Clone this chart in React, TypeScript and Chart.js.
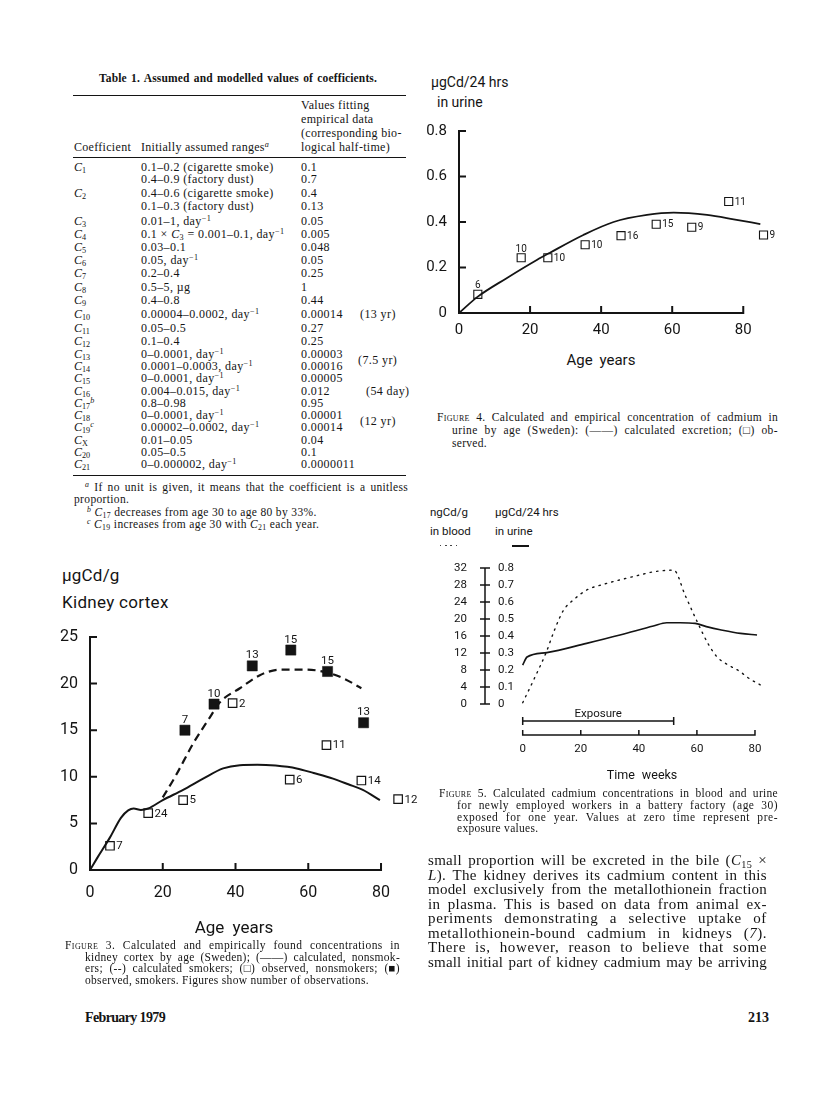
import React, { useEffect, useLayoutEffect, useRef } from 'react';
import { Chart, registerables } from 'chart.js';

Chart.register(...registerables);

const INK = '#141414';
const SANS = 'Roboto, "DejaVu Sans", sans-serif';
const SERIF = '"Liberation Serif", "Times New Roman", serif';

// ---------------- Figure 3: kidney cortex ----------------
const ageTicks = [0, 20, 40, 60, 80];
const ageTickLabels = ['0', '20', '40', '60', '80'];
const kidneyTicks = [0, 5, 10, 15, 20, 25];
const kidneyTickLabels = ['0', '5', '10', '15', '20', '25'];
const calcNonsmokerAge = [0, 2, 5.5, 8.5, 10.5, 12, 14, 16, 20, 25.6, 31.1, 36.6, 41.2, 46, 51, 56.8, 61.5, 66.8, 71, 75, 79.7];
const calcNonsmokerCd = [0, 1.3, 3.5, 5.6, 6.4, 6.6, 6.45, 6.6, 7.5, 8.6, 9.8, 10.9, 11.25, 11.3, 11.2, 10.9, 10.4, 9.8, 9.2, 8.6, 7.5];
const calcSmokerAge = [20, 23.4, 28.4, 33, 35.7, 41.2, 46.7, 52.2, 59.5, 66, 70, 74.6];
const calcSmokerCd = [7.8, 10, 13.6, 16.4, 18, 19.5, 20.9, 21.5, 21.5, 21.1, 20.5, 19.5];
const obsNonsmokerAge = [5.5, 16, 25.6, 39.2, 54.9, 65, 74.6, 84.7];
const obsNonsmokerCd = [2.6, 6.1, 7.5, 17.9, 9.7, 13.4, 9.6, 7.6];
const obsNonsmokerCount = [7, 24, 5, 2, 6, 11, 14, 12];
const obsNonsmokerSide = ['right', 'right', 'right', 'right', 'right', 'right', 'right', 'right'];
const obsSmokerAge = [26.1, 34.1, 44.6, 55.2, 65.3, 75.2];
const obsSmokerCd = [15.0, 17.8, 21.9, 23.6, 21.3, 15.8];
const obsSmokerCount = [7, 10, 13, 15, 15, 13];
const obsSmokerSide = ['above', 'above', 'above', 'above', 'above', 'above'];

// ---------------- Figure 4: urine by age ----------------
const urineTicks = [0, 0.2, 0.4, 0.6, 0.8];
const urineTickLabels = ['0', '0.2', '0.4', '0.6', '0.8'];
const calcUrineAge = [0, 5.3, 13.4, 21.9, 25.6, 35, 43.5, 52.9, 60.4, 69.8, 77.3, 84.8];
const calcUrineCd = [0, 0.072, 0.153, 0.233, 0.265, 0.343, 0.4, 0.431, 0.441, 0.431, 0.412, 0.391];
const obsUrineAge = [5.3, 17.5, 25, 35.5, 45.6, 55.5, 65.5, 75.9, 85.7];
const obsUrineCd = [0.082, 0.243, 0.243, 0.3, 0.34, 0.39, 0.377, 0.49, 0.343];
const obsUrineCount = [6, 10, 10, 10, 16, 15, 9, 11, 9];
const obsUrineSide = ['above', 'above', 'right', 'right', 'right', 'right', 'right', 'right', 'right'];

// ---------------- Figure 5: exposure in weeks ----------------
const weekTicks = [0, 20, 40, 60, 80];
const weekTickLabels = ['0', '20', '40', '60', '80'];
const bloodTicks = [0, 4, 8, 12, 16, 20, 24, 28, 32];
const bloodTickLabels = ['0', '4', '8', '12', '16', '20', '24', '28', '32'];
const urineRateTicks = [0, 0.1, 0.2, 0.3, 0.4, 0.5, 0.6, 0.7, 0.8];
const urineRateTickLabels = ['0', '0.1', '0.2', '0.3', '0.4', '0.5', '0.6', '0.7', '0.8'];
const bloodWeek = [0, 4, 8, 11, 14, 18, 22, 28, 33.5, 40, 45, 52, 56, 60, 64, 66.9, 70, 74.9, 78, 81.8];
const bloodNg = [0.3, 6, 12, 17.5, 22, 24.8, 26.8, 28.2, 29.2, 30.3, 31.1, 31.5, 25.5, 19.5, 14, 11.1, 9.5, 7.6, 6, 4.5];
const urineWeek = [0, 1.5, 8.3, 22, 33.5, 45, 49.6, 54.2, 59.4, 64, 68, 75, 80.7];
const urineUg = [0.229, 0.276, 0.302, 0.357, 0.406, 0.459, 0.478, 0.478, 0.474, 0.452, 0.437, 0.415, 0.406];
const exposureWeeks = [0, 52];

// ---------------- Table 1 ----------------
const tableCoefSub = ['1', '', '2', '', '3', '4', '5', '6', '7', '8', '9', '10', '11', '12', '13', '14', '15', '16', '17', '18', '19', 'X', '20', '21'];
const tableCoefNote = ['', '', '', '', '', '', '', '', '', '', '', '', '', '', '', '', '', '', 'b', '', 'c', '', '', ''];
const tableRanges = [
  '0.1–0.2 (cigarette smoke)', '0.4–0.9 (factory dust)', '0.4–0.6 (cigarette smoke)', '0.1–0.3 (factory dust)',
  '0.01–1, day^-1', '0.1 × C_3 = 0.001–0.1, day^-1', '0.03–0.1', '0.05, day^-1', '0.2–0.4', '0.5–5, µg', '0.4–0.8',
  '0.00004–0.0002, day^-1', '0.05–0.5', '0.1–0.4', '0–0.0001, day^-1', '0.0001–0.0003, day^-1', '0–0.0001, day^-1',
  '0.004–0.015, day^-1', '0.8–0.98', '0–0.0001, day^-1', '0.00002–0.0002, day^-1', '0.01–0.05', '0.05–0.5', '0–0.000002, day^-1',
];
const tableValues = ['0.1', '0.7', '0.4', '0.13', '0.05', '0.005', '0.048', '0.05', '0.25', '1', '0.44', '0.00014', '0.27', '0.25',
  '0.00003', '0.00016', '0.00005', '0.012', '0.95', '0.00001', '0.00014', '0.04', '0.1', '0.0000011'];
const halfTimeText = ['(13 yr)', '(7.5 yr)', '(54 day)', '(12 yr)'];
const halfTimeRow = [11, 14.5, 17, 19.5];
const TABLE_ROW_Y = [167, 178.5, 192.5, 205.5, 221, 234, 247, 260, 273, 287, 300, 314, 328, 341, 354, 366, 378, 391, 403, 415, 427, 440, 452, 464];
const HALF_X = [360, 358, 366, 360];

const pairs = (xs: number[], ys: number[]) => xs.map((x, i) => ({ x, y: ys[i] }));

// ---------------- rich text helpers ----------------
const Sub = ({ children }: any) => (
  <span style={{ fontSize: '0.68em', verticalAlign: '-0.28em', lineHeight: 0 }}>{children}</span>
);
const Sup = ({ children }: any) => (
  <span style={{ fontSize: '0.68em', verticalAlign: '0.5em', lineHeight: 0 }}>{children}</span>
);
function rich(s: string) {
  return s.split(/(C_[0-9X]+|\^-1|\^[abc]|\*[^*]+\*|§[^§]+§)/).map((p, i) => {
    if (p.startsWith('C_')) return <span key={i}><i>C</i><Sub>{p.slice(2)}</Sub></span>;
    if (p === '^-1') return <Sup key={i}>−1</Sup>;
    if (/^\^[abc]$/.test(p)) return <Sup key={i}><i>{p.slice(1)}</i></Sup>;
    if (p.startsWith('*')) return <i key={i}>{p.slice(1, -1)}</i>;
    if (p.startsWith('§')) return <span key={i} style={{ fontVariant: 'small-caps' }}>{p.slice(1, -1)}</span>;
    return <React.Fragment key={i}>{p}</React.Fragment>;
  });
}

function Txt({ x, y, size, family = SERIF, weight = 400, align = 'left', ls = 0, ws = 0, children }: any) {
  const lh = Math.round(size * 1.2);
  const st: React.CSSProperties = {
    position: 'absolute', top: y - lh / 2, height: lh, lineHeight: lh + 'px', fontFamily: family, fontSize: size,
    fontWeight: weight, whiteSpace: 'nowrap', color: INK, letterSpacing: ls, wordSpacing: ws,
  };
  if (align === 'center') { st.left = x; st.transform = 'translateX(-50%)'; } else st.left = x;
  return <div style={st}>{children}</div>;
}

function JLine({ x, y, w, size, family = SERIF, weight = 400, children }: any) {
  const ref = useRef<HTMLSpanElement>(null);
  useLayoutEffect(() => {
    const el = ref.current;
    if (!el) return;
    el.style.letterSpacing = '0px';
    el.style.wordSpacing = '0px';
    const natural = el.getBoundingClientRect().width;
    const text = el.textContent || '';
    const chars = Math.max(1, text.length);
    const spaces = (text.match(/ /g) || []).length;
    const extra = w - natural;
    if (extra >= 0 && spaces > 0) {
      const ls = Math.min(0.7, (extra * 0.45) / chars);
      const rest = extra - ls * chars;
      el.style.letterSpacing = ls + 'px';
      el.style.wordSpacing = rest / spaces + 'px';
    } else {
      el.style.letterSpacing = extra / chars + 'px';
    }
  }, []);
  const lh = Math.round(size * 1.2);
  return (
    <div style={{ position: 'absolute', left: x, top: y - lh / 2, height: lh, lineHeight: lh + 'px', fontFamily: family, fontSize: size, fontWeight: weight, whiteSpace: 'nowrap', color: INK }}>
      <span ref={ref} style={{ display: 'inline-block' }}>{children}</span>
    </div>
  );
}

// ---------------- chart plugins ----------------
const framePlugin = {
  id: 'frame',
  afterDraw(chart: any, _a: any, o: any) {
    if (!o || !o.kind) return;
    const ctx = chart.ctx;
    const xs = chart.scales.x;
    ctx.save();
    ctx.strokeStyle = INK;
    ctx.fillStyle = INK;
    ctx.lineWidth = o.lw;
    ctx.lineJoin = 'miter';
    ctx.beginPath();
    if (o.kind === 'L') {
      const ys = chart.scales.y;
      const x0 = xs.getPixelForValue(o.xFrom), x1 = xs.getPixelForValue(o.xTo);
      const yb = ys.getPixelForValue(o.yFrom), yt = ys.getPixelForValue(o.yTo);
      ctx.moveTo(x0 + o.tick, yt); ctx.lineTo(x0, yt); ctx.lineTo(x0, yb); ctx.lineTo(x1, yb); ctx.lineTo(x1, yb - o.tick);
      ys.ticks.forEach((t: any) => {
        if (t.value > o.yFrom && t.value < o.yTo) { const p = ys.getPixelForValue(t.value); ctx.moveTo(x0, p); ctx.lineTo(x0 + o.tick, p); }
      });
      xs.ticks.forEach((t: any) => {
        if (t.value > o.xFrom && t.value < o.xTo) { const p = xs.getPixelForValue(t.value); ctx.moveTo(p, yb); ctx.lineTo(p, yb - o.tick); }
      });
      ctx.stroke();
    } else if (o.kind === 'cross') {
      const ys = chart.scales.y;
      const ax = chart.scales.y2.left - o.axisGap;
      const yt = ys.getPixelForValue(o.yTo), yb = ys.getPixelForValue(o.yFrom);
      ctx.moveTo(ax, yt); ctx.lineTo(ax, yb);
      ys.ticks.forEach((t: any) => { const p = ys.getPixelForValue(t.value); ctx.moveTo(ax - o.cross, p); ctx.lineTo(ax + o.cross, p); });
      const eb = chart.chartArea.bottom + o.exposureDy;
      const e0 = xs.getPixelForValue(o.exposure[0]), e1 = xs.getPixelForValue(o.exposure[1]);
      ctx.moveTo(e0, eb - 4); ctx.lineTo(e0, eb + 4);
      ctx.moveTo(e0, eb); ctx.lineTo(e1, eb);
      ctx.moveTo(e1, eb - 4); ctx.lineTo(e1, eb + 4);
      const tb = chart.chartArea.bottom + o.axisDy;
      const x0 = xs.getPixelForValue(o.xFrom), x1 = xs.getPixelForValue(o.xTo);
      ctx.moveTo(x0, tb - o.tick); ctx.lineTo(x0, tb); ctx.lineTo(x1, tb); ctx.lineTo(x1, tb - o.tick);
      xs.ticks.forEach((t: any) => {
        if (t.value > o.xFrom && t.value < o.xTo) { const p = xs.getPixelForValue(t.value); ctx.moveTo(p, tb); ctx.lineTo(p, tb - o.tick); }
      });
      ctx.stroke();
      ctx.font = `${o.labelSize}px ${SANS}`;
      ctx.textAlign = 'center';
      ctx.textBaseline = 'alphabetic';
      ctx.fillText(o.label, (e0 + e1) / 2, eb - 4);
    }
    ctx.restore();
  },
};

const countLabelPlugin = {
  id: 'countLabels',
  afterDatasetsDraw(chart: any, _a: any, o: any) {
    if (!o || !o.size) return;
    const ctx = chart.ctx;
    ctx.save();
    ctx.fillStyle = INK;
    ctx.font = `${o.size}px ${SANS}`;
    chart.data.datasets.forEach((ds: any, i: number) => {
      if (!ds.counts) return;
      const meta = chart.getDatasetMeta(i);
      meta.data.forEach((pt: any, j: number) => {
        const txt = String(ds.counts[j]);
        if (ds.labelSide[j] === 'above') {
          ctx.textAlign = 'center'; ctx.textBaseline = 'alphabetic';
          ctx.fillText(txt, pt.x, pt.y - o.above);
        } else {
          ctx.textAlign = 'left'; ctx.textBaseline = 'middle';
          ctx.fillText(txt, pt.x + o.right, pt.y + 0.5);
        }
      });
    });
    ctx.restore();
  },
};

const zeroPad = (a: any) => { a.paddingTop = 0; a.paddingBottom = 0; a.paddingLeft = 0; a.paddingRight = 0; };

function xAxis(ticksArr: number[], labels: string[], max: number, size: number, padding: number, height: number) {
  return {
    type: 'linear', min: 0, max,
    grid: { display: false, drawTicks: false }, border: { display: false },
    afterBuildTicks: (a: any) => { a.ticks = ticksArr.map((v) => ({ value: v })); },
    afterFit: (a: any) => { a.height = height; zeroPad(a); },
    ticks: { autoSkip: false, maxRotation: 0, minRotation: 0, padding, color: INK, font: { family: SANS, size }, callback: (_v: any, i: number) => labels[i] },
  };
}
function yAxis(ticksArr: number[], labels: string[], max: number, size: number, padding: number, width: number, extra: any = {}) {
  return {
    type: 'linear', min: 0, max, position: 'left',
    grid: { display: false, drawTicks: false }, border: { display: false },
    afterBuildTicks: (a: any) => { a.ticks = ticksArr.map((v) => ({ value: v })); },
    afterFit: (a: any) => { a.width = width; zeroPad(a); },
    ...extra,
    ticks: { autoSkip: false, padding, color: INK, font: { family: SANS, size }, callback: (_v: any, i: number) => labels[i], ...(extra.ticks || {}) },
  };
}

const baseOptions = (padding: any) => ({
  responsive: false, animation: false, events: [],
  layout: { padding, autoPadding: false },
  plugins: { legend: { display: false }, tooltip: { enabled: false }, title: { display: false } },
});

function ChartCanvas({ left, top, width, height, make }: any) {
  const ref = useRef<HTMLCanvasElement>(null);
  useEffect(() => {
    const chart = new Chart(ref.current as HTMLCanvasElement, make());
    return () => chart.destroy();
  }, []);
  return <canvas ref={ref} width={width} height={height} style={{ position: 'absolute', left, top, width, height }} />;
}

function fig3Config(): any {
  const o: any = baseOptions({ left: 0, top: 17, right: 42.6, bottom: 0 });
  o.scales = {
    x: xAxis(ageTicks, ageTickLabels, 90, 16, 13.4, 50),
    y: yAxis(kidneyTicks, kidneyTickLabels, 25, 16, 12, 50),
  };
  o.plugins.frame = { kind: 'L', xFrom: ageTicks[0], xTo: ageTicks[ageTicks.length - 1], yFrom: kidneyTicks[0], yTo: kidneyTicks[kidneyTicks.length - 1], tick: 7, lw: 2 };
  o.plugins.countLabels = { size: 11.5, above: 7.5, right: 6.3 };
  return {
    type: 'line',
    data: {
      datasets: [
        { data: pairs(calcNonsmokerAge, calcNonsmokerCd), borderColor: INK, borderWidth: 2, pointRadius: 0, cubicInterpolationMode: 'monotone', fill: false, clip: false },
        { data: pairs(calcSmokerAge, calcSmokerCd), borderColor: INK, borderWidth: 2.2, borderDash: [8, 5], pointRadius: 0, cubicInterpolationMode: 'monotone', fill: false, clip: false },
        { data: pairs(obsNonsmokerAge, obsNonsmokerCd), showLine: false, pointStyle: 'rect', pointRadius: 6, pointBackgroundColor: '#fff', pointBorderColor: INK, pointBorderWidth: 1.2, counts: obsNonsmokerCount, labelSide: obsNonsmokerSide, clip: false },
        { data: pairs(obsSmokerAge, obsSmokerCd), showLine: false, pointStyle: 'rect', pointRadius: 7.2, pointBackgroundColor: INK, pointBorderColor: INK, pointBorderWidth: 0.5, counts: obsSmokerCount, labelSide: obsSmokerSide, clip: false },
      ],
    },
    options: o,
    plugins: [framePlugin, countLabelPlugin],
  };
}

function fig4Config(): any {
  const o: any = baseOptions({ left: 0, top: 21, right: 21.2, bottom: 0 });
  o.scales = {
    x: xAxis(ageTicks, ageTickLabels, 90, 15, 8, 37),
    y: yAxis(urineTicks, urineTickLabels, 0.8, 15, 12, 39),
  };
  o.plugins.frame = { kind: 'L', xFrom: ageTicks[0], xTo: ageTicks[ageTicks.length - 1], yFrom: urineTicks[0], yTo: urineTicks[urineTicks.length - 1], tick: 7, lw: 2 };
  o.plugins.countLabels = { size: 10, above: 6, right: 6 };
  return {
    type: 'line',
    data: {
      datasets: [
        { data: pairs(calcUrineAge, calcUrineCd), borderColor: INK, borderWidth: 1.8, pointRadius: 0, cubicInterpolationMode: 'monotone', fill: false, clip: false },
        { data: pairs(obsUrineAge, obsUrineCd), showLine: false, pointStyle: 'rect', pointRadius: 5.7, pointBackgroundColor: 'rgba(255,255,255,0)', pointBorderColor: INK, pointBorderWidth: 1.1, counts: obsUrineCount, labelSide: obsUrineSide, clip: false },
      ],
    },
    options: o,
    plugins: [framePlugin, countLabelPlugin],
  };
}

function fig5Config(): any {
  const o: any = baseOptions({ left: 0, top: 18, right: 30.5, bottom: 0 });
  o.scales = {
    x: xAxis(weekTicks, weekTickLabels, 85, 11.5, 38.1, 86),
    y: yAxis(bloodTicks, bloodTickLabels, 32, 11.5, 31, 78, { weight: 1 }),
    y2: yAxis(urineRateTicks, urineRateTickLabels, 0.8, 11.5, 0, 24.7, { weight: 0, ticks: { crossAlign: 'far' } }),
  };
  o.plugins.frame = {
    kind: 'cross', xFrom: weekTicks[0], xTo: weekTicks[weekTicks.length - 1], yFrom: bloodTicks[0], yTo: bloodTicks[bloodTicks.length - 1],
    axisGap: 13, cross: 5, tick: 5, lw: 1.5, exposure: exposureWeeks, exposureDy: 17, axisDy: 31, label: 'Exposure', labelSize: 11.5,
  };
  return {
    type: 'line',
    data: {
      datasets: [
        { data: pairs(bloodWeek, bloodNg), yAxisID: 'y', borderColor: INK, borderWidth: 1.4, borderDash: [1.4, 5.2], borderCapStyle: 'round', pointRadius: 0, cubicInterpolationMode: 'monotone', fill: false, clip: false },
        { data: pairs(urineWeek, urineUg), yAxisID: 'y2', borderColor: INK, borderWidth: 1.7, pointRadius: 0, cubicInterpolationMode: 'monotone', fill: false, clip: false },
      ],
    },
    options: o,
    plugins: [framePlugin],
  };
}

// ---------------- page pieces ----------------
function Table1() {
  const rule = (y: number) => <div style={{ position: 'absolute', left: 73, top: y, width: 333, height: 1, background: INK }} />;
  return (
    <>
      <JLine x={99} y={78} w={278} size={11.5} weight={700}>Table 1. Assumed and modelled values of coefficients.</JLine>
      {rule(95)}
      <Txt x={301} y={105} size={12} ls={0.3}>Values fitting</Txt>
      <Txt x={301} y={119} size={12} ls={0.3}>empirical data</Txt>
      <Txt x={301} y={133} size={12} ls={0.3}>(corresponding bio-</Txt>
      <Txt x={301} y={147} size={12} ls={0.3}>logical half-time)</Txt>
      <Txt x={74} y={147} size={12} ls={0.3}>Coefficient</Txt>
      <Txt x={141} y={147} size={12} ls={0.3}>Initially assumed ranges<Sup><i>a</i></Sup></Txt>
      {rule(157)}
      {tableRanges.map((r, i) => (
        <React.Fragment key={i}>
          {tableCoefSub[i] ? (
            <Txt x={74} y={TABLE_ROW_Y[i]} size={12}><i>C</i><Sub>{tableCoefSub[i]}</Sub>{tableCoefNote[i] ? <Sup><i>{tableCoefNote[i]}</i></Sup> : null}</Txt>
          ) : null}
          <Txt x={141} y={TABLE_ROW_Y[i]} size={12} ls={0.4}>{rich(r)}</Txt>
          <Txt x={301} y={TABLE_ROW_Y[i]} size={12} ls={0.4}>{tableValues[i]}</Txt>
        </React.Fragment>
      ))}
      {halfTimeText.map((t, k) => {
        const r = halfTimeRow[k];
        const lo = Math.floor(r), hi = Math.ceil(r);
        const y = (TABLE_ROW_Y[lo] + TABLE_ROW_Y[hi]) / 2;
        return <Txt key={k} x={HALF_X[k]} y={y} size={12} ls={0.4}>{t}</Txt>;
      })}
      {rule(475)}
      <JLine x={85} y={487} w={323} size={11.5}>{rich('^a If no unit is given, it means that the coefficient is a unitless')}</JLine>
      <Txt x={74} y={499} size={11.5} ls={0.35}>proportion.</Txt>
      <Txt x={87} y={512} size={11.5} ls={0.35}>{rich('^b C_17 decreases from age 30 to age 80 by 33%.')}</Txt>
      <Txt x={87} y={524} size={11.5} ls={0.35}>{rich('^c C_19 increases from age 30 with C_21 each year.')}</Txt>
    </>
  );
}

const fig3Caption = [
  '§Figure 3.§ Calculated and empirically found concentrations in',
  'kidney cortex by age (Sweden); (——) calculated, nonsmok-',
  'ers; (--) calculated smokers; (□) observed, nonsmokers; (■)',
  'observed, smokers. Figures show number of observations.',
];
const fig4Caption = [
  '§Figure 4.§ Calculated and empirical concentration of cadmium in',
  'urine by age (Sweden): (——) calculated excretion; (□) ob-',
  'served.',
];
const fig5Caption = [
  '§Figure 5.§ Calculated cadmium concentrations in blood and urine',
  'for newly employed workers in a battery factory (age 30)',
  'exposed for one year. Values at zero time represent pre-',
  'exposure values.',
];
const bodyLines = [
  'small proportion will be excreted in the bile (C_15 ×',
  '*L*). The kidney derives its cadmium content in this',
  'model exclusively from the metallothionein fraction',
  'in plasma. This is based on data from animal ex-',
  'periments demonstrating a selective uptake of',
  'metallothionein-bound cadmium in kidneys (*7*).',
  'There is, however, reason to believe that some',
  'small initial part of kidney cadmium may be arriving',
];

function Caption({ lines, x0, indent, right, y0, step, size }: any) {
  return (
    <>
      {lines.map((l: string, i: number) => {
        const x = i === 0 ? x0 : x0 + indent;
        const y = y0 + i * step;
        const last = i === lines.length - 1;
        return last ? (
          <Txt key={i} x={x} y={y} size={size} ls={0.3}>{rich(l)}</Txt>
        ) : (
          <JLine key={i} x={x} y={y} w={right - x} size={size}>{rich(l)}</JLine>
        );
      })}
    </>
  );
}

export default function App() {
  return (
    <div style={{ position: 'absolute', left: 0, top: 0, width: 816, height: 1106, background: '#fff', overflow: 'hidden' }}>
      <Table1 />

      {/* Figure 3 */}
      <Txt x={62} y={575} size={17} family={SANS} ls={0.2}>µgCd/g</Txt>
      <Txt x={62} y={602} size={17} family={SANS} ls={0.3}>Kidney cortex</Txt>
      <ChartCanvas left={40} top={620} width={420} height={300} make={fig3Config} />
      <Txt x={234} y={927} size={17} family={SANS} align="center" ws={4}>Age years</Txt>
      <Caption lines={fig3Caption} x0={65} indent={20} right={400} y0={945} step={11.5} size={11.5} />

      {/* Figure 4 */}
      <Txt x={431} y={82} size={14} family={SANS}>µgCd/24 hrs</Txt>
      <Txt x={437} y={102} size={14} family={SANS}>in urine</Txt>
      <ChartCanvas left={420} top={110} width={380} height={240} make={fig4Config} />
      <Txt x={601} y={360} size={15} family={SANS} align="center" ws={3}>Age years</Txt>
      <Caption lines={fig4Caption} x0={437} indent={15} right={778} y0={417} step={13} size={11.5} />

      {/* Figure 5 */}
      <Txt x={430} y={512} size={11.5} family={SANS}>ngCd/g</Txt>
      <Txt x={430} y={531} size={11.5} family={SANS}>in blood</Txt>
      <div style={{ position: 'absolute', left: 440, top: 545, width: 21, height: 1.4, background: `repeating-linear-gradient(to right, #444 0 1.4px, transparent 1.4px 5.2px)` }} />
      <Txt x={495} y={512} size={11.5} family={SANS}>µgCd/24 hrs</Txt>
      <Txt x={495} y={531} size={11.5} family={SANS}>in urine</Txt>
      <div style={{ position: 'absolute', left: 512, top: 545, width: 17, height: 1.6, background: INK }} />
      <ChartCanvas left={420} top={550} width={380} height={240} make={fig5Config} />
      <Txt x={642} y={774} size={12.5} family={SANS} align="center" ws={4}>Time weeks</Txt>
      <Caption lines={fig5Caption} x0={439} indent={18} right={778} y0={793} step={11.8} size={11.5} />

      {/* body text */}
      {bodyLines.map((l, i) => (
        <JLine key={i} x={428} y={860 + i * 14.5} w={339} size={15}>{rich(l)}</JLine>
      ))}

      {/* footer */}
      <JLine x={85} y={1017} w={80} size={14} weight={700}>February 1979</JLine>
      <Txt x={748} y={1017} size={14} weight={700}>213</Txt>
    </div>
  );
}
